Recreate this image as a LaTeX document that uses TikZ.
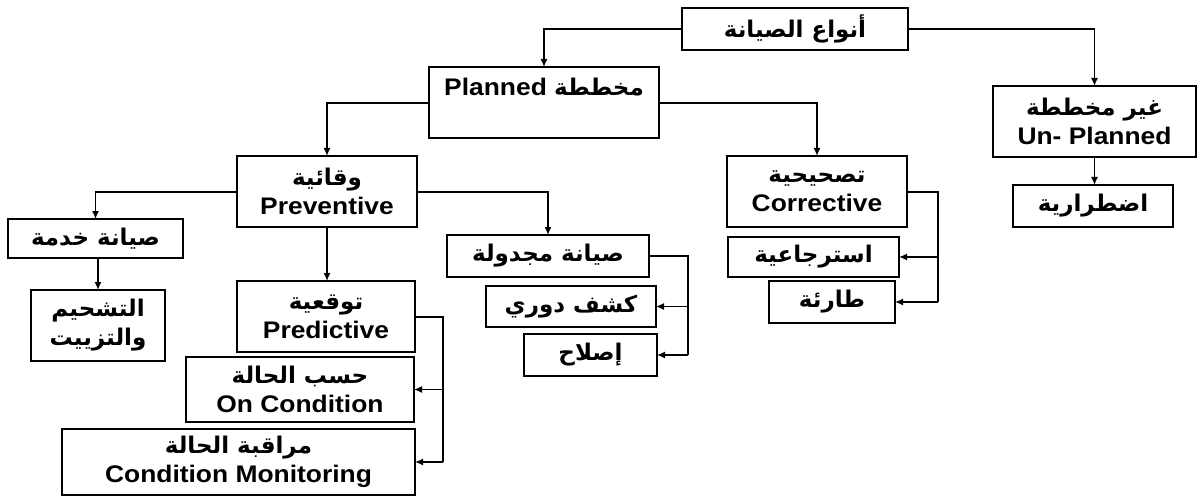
\documentclass[tikz,border=0pt]{standalone}
\usepackage{fontspec}
\setmainfont{Liberation Sans}[FakeStretch=1.1]
\newfontfamily\arfont[Script=Arabic]{DejaVu Sans}
\TeXXeTstate=1
\usetikzlibrary{arrows.meta,calc}
\newcommand{\AR}[1]{{\arfont\bfseries\fontsize{23}{29}\selectfont\beginR #1\endR}}
\begin{document}
\begin{tikzpicture}[x=1pt,y=-1pt,
  bx/.style={draw,line width=1.6pt,inner sep=0pt,outer sep=0pt,align=center,
    font=\bfseries\fontsize{24}{29}\selectfont},
  conn/.style={line width=1.5pt},
  arr/.style={line width=1.5pt,-{Latex[length=8pt,width=7pt]}},
  txt/.style={inner sep=0pt,font=\bfseries\fontsize{24}{29}\selectfont}]
\useasboundingbox (0,0) rectangle (1198,497);
% boxes
\node[bx,minimum width=226pt,minimum height=42pt] (root) at (795,29) {\AR{أنواع الصيانة}};
\node[bx,minimum width=230pt,minimum height=71pt] (planned) at (544,102.5) {};
\node[txt] (plannedtxt) at (544,87) {Planned \AR{مخططة}};
\node[bx,minimum width=203pt,minimum height=71pt] (unplanned) at (1094.5,121.5) {\AR{غير مخططة}\\Un- Planned};
\node[bx,minimum width=160pt,minimum height=42pt] (emerg) at (1093,206) {\AR{اضطرارية}};
\node[bx,minimum width=180pt,minimum height=71pt] (prev) at (327,191.5) {\AR{وقائية}\\Preventive};
\node[bx,minimum width=180pt,minimum height=71pt] (corr) at (817,191.5) {\AR{تصحيحية}\\Corrective};
\node[bx,minimum width=175pt,minimum height=39pt] (service) at (95.5,238.5) {\AR{صيانة خدمة}};
\node[bx,minimum width=134pt,minimum height=71pt] (lube) at (98,325.5) {\AR{التشحيم}\\\AR{والتزييت}};
\node[bx,minimum width=178pt,minimum height=71pt] (pred) at (326,316.5) {\AR{توقعية}\\Predictive};
\node[bx,minimum width=228pt,minimum height=65pt] (oncond) at (300,389.5) {\AR{حسب الحالة}\\On Condition};
\node[bx,minimum width=353pt,minimum height=66pt] (condmon) at (238.5,462) {\AR{مراقبة الحالة}\\Condition Monitoring};
\node[bx,minimum width=202pt,minimum height=42pt] (sched) at (548,256) {\AR{صيانة مجدولة}};
\node[bx,minimum width=170pt,minimum height=41pt] (periodic) at (571,306.5) {\AR{كشف دوري}};
\node[bx,minimum width=133pt,minimum height=42pt] (repair) at (590.5,355) {\AR{إصلاح}};
\node[bx,minimum width=171pt,minimum height=40pt] (retro) at (813.5,257) {\AR{استرجاعية}};
\node[bx,minimum width=126pt,minimum height=42pt] (tarea) at (832,302) {\AR{طارئة}};
% bus coordinates
\coordinate (predbus) at (443,317);
\coordinate (schedbus) at (688,256);
\coordinate (corrbus) at (938,192);
% connectors
\draw[arr] (root.west) -| (planned.north);
\draw[arr] (root.east) -| (unplanned.north);
\draw[arr] (planned.west |- 0,103) -| (prev.north);
\draw[arr] (planned.east |- 0,103) -| (corr.north);
\draw[arr] (unplanned.south) -- (unplanned.south |- emerg.north);
\draw[arr] (prev.west |- 0,192) -| (service.north);
\draw[arr] (prev.east |- 0,192) -| (sched.north);
\draw[arr] (prev.south) -- (prev.south |- pred.north);
\draw[arr] (lube.north |- service.south) -- (lube.north);
\draw[conn] (pred.east |- predbus) -- (predbus) -- (predbus |- condmon.east);
\draw[arr] (predbus |- oncond.east) -- (oncond.east);
\draw[arr] (predbus |- condmon.east) -- (condmon.east);
\draw[conn] (sched.east) -- (schedbus) -- (schedbus |- repair.east);
\draw[arr] (schedbus |- periodic.east) -- (periodic.east);
\draw[arr] (schedbus |- repair.east) -- (repair.east);
\draw[conn] (corr.east |- corrbus) -- (corrbus) -- (corrbus |- tarea.east);
\draw[arr] (corrbus |- retro.east) -- (retro.east);
\draw[arr] (corrbus |- tarea.east) -- (tarea.east);
\end{tikzpicture}
\end{document}
